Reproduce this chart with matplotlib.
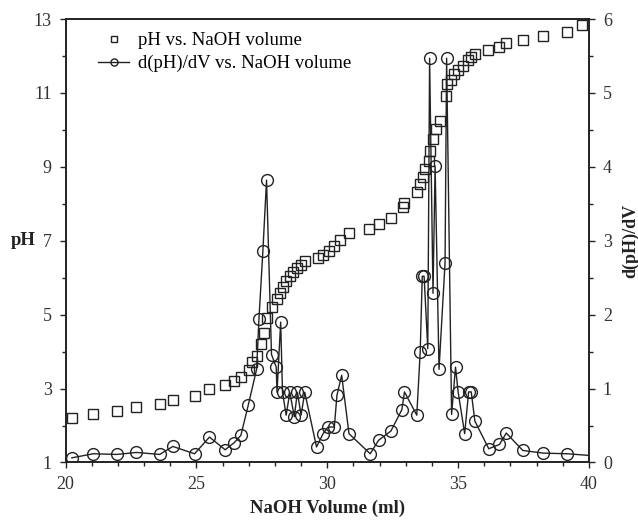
import numpy as np
import matplotlib
matplotlib.use('Agg')
import matplotlib.pyplot as plt
from matplotlib.ticker import MultipleLocator, FixedLocator

# titration data
vol_ph = [20.24, 21.06, 21.96, 22.71, 23.6, 24.1, 24.93, 25.5, 26.1, 26.45, 26.7,
          27.02, 27.13, 27.33, 27.47, 27.58, 27.68, 27.87, 28.08, 28.19, 28.29, 28.43,
          28.57, 28.71, 28.86, 29.0, 29.14, 29.63, 29.84, 30.06, 30.27, 30.48, 30.83,
          31.61, 31.96, 32.43, 32.88, 32.95, 33.42, 33.56, 33.66, 33.73, 33.87, 33.91,
          34.05, 34.15, 34.3, 34.55, 34.58, 34.72, 34.86, 35.0, 35.17, 35.36, 35.5,
          35.64, 36.13, 36.55, 36.84, 37.47, 38.25, 39.17, 39.73]
ph = [2.2, 2.3, 2.39, 2.49, 2.58, 2.7, 2.8, 3.0, 3.09, 3.21, 3.3,
      3.5, 3.71, 3.88, 4.2, 4.5, 4.9, 5.2, 5.42, 5.58, 5.76, 5.9,
      6.04, 6.15, 6.26, 6.35, 6.44, 6.53, 6.62, 6.71, 6.85, 7.03, 7.21,
      7.32, 7.44, 7.62, 7.92, 8.03, 8.32, 8.53, 8.73, 8.93, 9.16, 9.43,
      9.75, 10.02, 10.25, 10.93, 11.24, 11.35, 11.52, 11.63, 11.74, 11.88, 11.97,
      12.06, 12.15, 12.24, 12.35, 12.44, 12.53, 12.65, 12.83]

vol_d = [20.24, 21.06, 21.96, 22.71, 23.6, 24.1, 24.93, 25.5, 26.1, 26.45, 26.7,
         26.98, 27.3, 27.39, 27.54, 27.68, 27.87, 28.05, 28.08, 28.22, 28.29, 28.43,
         28.57, 28.74, 28.86, 29.0, 29.14, 29.59, 29.84, 30.03, 30.27, 30.37, 30.55,
         30.83, 31.64, 31.96, 32.43, 32.85, 32.95, 33.42, 33.55, 33.63, 33.7, 33.84,
         33.91, 34.04, 34.12, 34.27, 34.5, 34.56, 34.75, 34.9, 35.0, 35.25, 35.4,
         35.5, 35.64, 36.17, 36.58, 36.84, 37.47, 38.25, 39.17, 40.6]
dpdv = [0.063, 0.118, 0.109, 0.136, 0.109, 0.217, 0.118, 0.344, 0.172, 0.27, 0.367,
        0.774, 1.26, 1.94, 2.86, 3.82, 1.46, 1.29, 0.95, 1.9, 0.95, 0.64,
        0.95, 0.62, 0.95, 0.64, 0.95, 0.21, 0.39, 0.48, 0.48, 0.91, 1.18,
        0.39, 0.118, 0.3, 0.425, 0.715, 0.955, 0.64, 1.49, 2.52, 2.52, 1.54,
        5.47, 2.29, 4.01, 1.26, 2.7, 5.47, 0.65, 1.29, 0.955, 0.39, 0.955,
        0.955, 0.56, 0.186, 0.244, 0.398, 0.163, 0.127, 0.118, 0.08]

ph_ticks = [1, 3, 5, 7, 9, 11, 13]

plt.rcParams['font.family'] = ['Liberation Serif', 'DejaVu Serif']
plt.rcParams['font.size'] = 12

ink = '#222222'

fig = plt.figure(figsize=(6.38, 5.21), dpi=100)
ax = fig.add_axes([0.1027, 0.1123, 0.8205, 0.8512])
ax2 = ax.twinx()

sq, = ax.plot(vol_ph, ph, 's', mfc='none', mec=ink, ms=7, mew=1.0,
              label='pH vs. NaOH volume')
ci, = ax2.plot(vol_d, dpdv, '-o', color=ink, mfc='none', mec=ink, ms=8.5,
               mew=1.0, lw=1.0, label='d(pH)/dV vs. NaOH volume')

ax.set_xlim(20, 40)
ax.set_ylim(1, 13)
ax2.set_ylim(0, 6)

ax.xaxis.set_major_locator(MultipleLocator(5))
ax.xaxis.set_minor_locator(MultipleLocator(1))
ax.yaxis.set_major_locator(FixedLocator(ph_ticks))
ax.yaxis.set_minor_locator(MultipleLocator(1))
ax2.yaxis.set_major_locator(MultipleLocator(1))
ax2.yaxis.set_minor_locator(MultipleLocator(0.5))

for a in (ax, ax2):
    a.tick_params(which='major', direction='out', length=4, width=1, colors=ink,
                  labelcolor='#333333', labelsize=13)
    a.tick_params(which='minor', direction='out', length=3, width=1, colors=ink)
    for s in a.spines.values():
        s.set_color(ink)
        s.set_linewidth(1.2)
ax.tick_params(axis='x', pad=6)
ax.tick_params(axis='y', pad=6)
ax2.tick_params(axis='y', pad=6)

ax.set_xlabel('NaOH Volume (ml)', fontweight='bold', fontsize=13.5, color=ink)
ax.xaxis.set_label_coords(0.5, -0.085)
ax.set_ylabel('pH', fontweight='bold', fontsize=13.5, rotation=0, color=ink,
              ha='center', va='center')
ax.yaxis.set_label_coords(-0.08, 0.5)
ax2.set_ylabel('d(pH)/dV', fontweight='bold', fontsize=13, rotation=90, color=ink)
ax2.yaxis.set_label_coords(1.062, 0.5)

ax2.legend(handles=[sq, ci], loc='upper left', bbox_to_anchor=(0.03, 1.008),
           frameon=False, fontsize=13.5, markerscale=0.6, handlelength=1.65,
           handletextpad=0.5, labelspacing=0.3)

fig.savefig('out.png', dpi=100)
